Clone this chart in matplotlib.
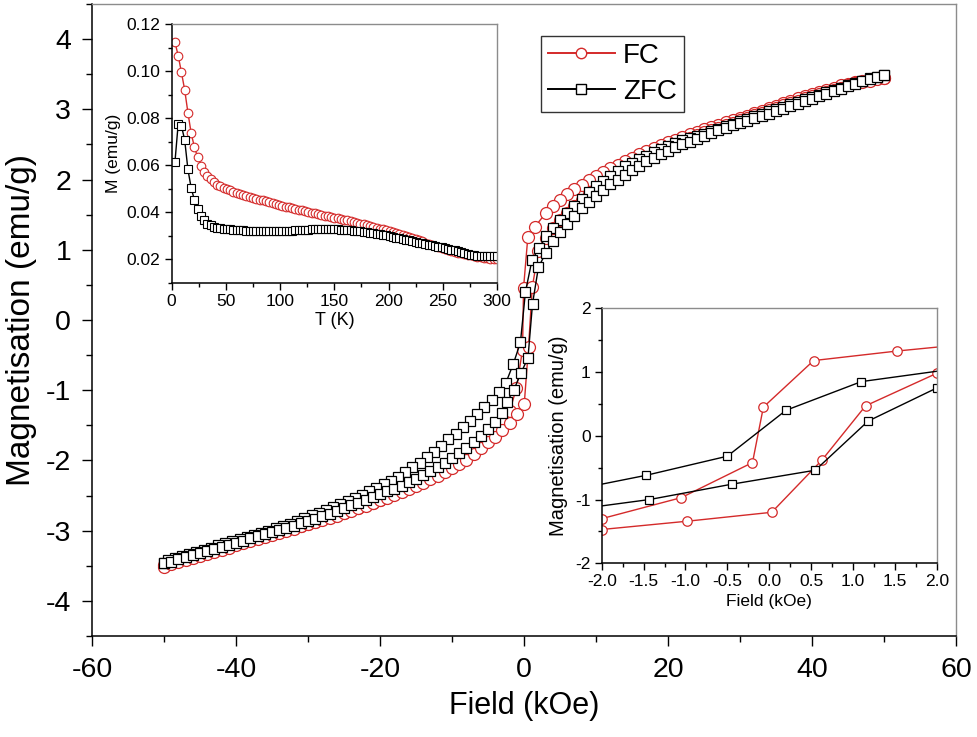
import numpy as np
import matplotlib
matplotlib.use('Agg')
import matplotlib.pyplot as plt
from matplotlib.lines import Line2D
from matplotlib.ticker import MultipleLocator, FormatStrFormatter

plt.rcParams['font.family'] = ['Liberation Sans', 'DejaVu Sans']
plt.rcParams['axes.unicode_minus'] = False

RED = '#d42a2a'

# ---------------- M-H loops (main plot + low-field inset) ----------------
# FC, descending branch (+50 -> -50 kOe)
fc_down_H = np.concatenate([np.arange(50, 2, -1),
                            [1.53, 0.53, -0.07, -0.2, -1.05, -2.0],
                            np.arange(-3, -51, -1)])
fc_down_M = [3.45, 3.44, 3.43, 3.41, 3.39, 3.36, 3.34, 3.31, 3.28, 3.25, 3.22, 3.19,
             3.16, 3.12, 3.09, 3.05, 3.02, 2.98, 2.95, 2.91, 2.88, 2.85, 2.82, 2.78,
             2.75, 2.72, 2.68, 2.65, 2.61, 2.57, 2.53, 2.49, 2.45, 2.40, 2.36, 2.31,
             2.26, 2.21, 2.16, 2.11, 2.05, 1.99, 1.92, 1.86, 1.79, 1.71, 1.62, 1.52,
             1.33, 1.18, 0.45, -0.42, -0.97, -1.30,
             -1.44, -1.55, -1.64, -1.73, -1.81, -1.89, -1.96, -2.03, -2.09, -2.15,
             -2.21, -2.27, -2.32, -2.37, -2.42, -2.47, -2.51, -2.56, -2.60, -2.64,
             -2.68, -2.71, -2.75, -2.78, -2.81, -2.84, -2.87, -2.90, -2.93, -2.96,
             -2.99, -3.02, -3.05, -3.08, -3.10, -3.13, -3.16, -3.19, -3.22, -3.25,
             -3.28, -3.31, -3.34, -3.37, -3.40, -3.43, -3.46, -3.49]

# FC, ascending branch (-50 -> +50 kOe)
fc_up_H = np.concatenate([np.arange(-50, -2, 1),
                          [-2.0, -0.98, 0.03, 0.63, 1.15, 2.0],
                          np.arange(3, 51, 1)])
fc_up_M = [-3.51, -3.48, -3.45, -3.42, -3.39, -3.36, -3.33, -3.30, -3.27, -3.24,
           -3.21, -3.18, -3.15, -3.12, -3.09, -3.06, -3.03, -3.00, -2.97, -2.94,
           -2.91, -2.88, -2.85, -2.82, -2.79, -2.75, -2.72, -2.68, -2.65, -2.61,
           -2.57, -2.53, -2.49, -2.45, -2.41, -2.37, -2.32, -2.27, -2.22, -2.17,
           -2.11, -2.05, -1.99, -1.91, -1.82, -1.74, -1.66, -1.57,
           -1.47, -1.34, -1.20, -0.38, 0.47, 0.98,
           1.17, 1.31, 1.43, 1.53, 1.62, 1.71, 1.79, 1.87, 1.94, 2.01, 2.08, 2.14,
           2.20, 2.26, 2.32, 2.37, 2.42, 2.47, 2.51, 2.55, 2.59, 2.63, 2.67, 2.71,
           2.74, 2.78, 2.81, 2.85, 2.88, 2.92, 2.95, 2.99, 3.02, 3.06, 3.09, 3.12,
           3.16, 3.19, 3.22, 3.25, 3.28, 3.31, 3.34, 3.37, 3.39, 3.41, 3.43, 3.45]

# ZFC, descending branch
zfc_down_H = np.concatenate([np.arange(50, 3, -1),
                             [3.1, 2.1, 1.1, 0.2, -0.5, -1.47],
                             np.arange(-2.5, -50, -1), [-50]])
zfc_down_M = [3.49, 3.46, 3.44, 3.41, 3.37, 3.34, 3.31, 3.28, 3.24, 3.21, 3.18, 3.14,
              3.11, 3.07, 3.04, 3.00, 2.97, 2.93, 2.90, 2.86, 2.83, 2.79, 2.76, 2.72,
              2.69, 2.65, 2.62, 2.59, 2.56, 2.52, 2.48, 2.44, 2.39, 2.34, 2.29, 2.24,
              2.19, 2.12, 2.05, 1.98, 1.91, 1.82, 1.72, 1.62, 1.52, 1.43, 1.31,
              1.19, 1.03, 0.85, 0.40, -0.32, -0.62,
              -0.89, -1.02, -1.14, -1.24, -1.34, -1.44, -1.53, -1.62, -1.70, -1.79,
              -1.88, -1.95, -2.03, -2.10, -2.16, -2.23, -2.29, -2.34, -2.39, -2.44,
              -2.49, -2.54, -2.58, -2.62, -2.66, -2.70, -2.75, -2.78, -2.82, -2.86,
              -2.90, -2.93, -2.96, -3.00, -3.03, -3.06, -3.09, -3.12, -3.15, -3.18,
              -3.21, -3.24, -3.27, -3.30, -3.33, -3.36, -3.39, -3.42,
              -3.46]

# ZFC, ascending branch
zfc_up_H = np.concatenate([np.arange(-50, -2, 1),
                           [-2.4, -1.43, -0.45, 0.55, 1.18, 2.0],
                           np.arange(3, 51, 1)])
zfc_up_M = [-3.46, -3.44, -3.41, -3.38, -3.35, -3.32, -3.29, -3.26, -3.23, -3.20,
            -3.17, -3.14, -3.11, -3.08, -3.05, -3.02, -2.99, -2.96, -2.93, -2.89,
            -2.86, -2.83, -2.79, -2.76, -2.72, -2.68, -2.64, -2.60, -2.56, -2.52,
            -2.48, -2.44, -2.40, -2.36, -2.31, -2.26, -2.21, -2.15, -2.09, -2.03,
            -1.97, -1.90, -1.82, -1.74, -1.65, -1.55, -1.45, -1.32,
            -1.17, -1.00, -0.76, -0.54, 0.23, 0.75,
            0.95, 1.12, 1.25, 1.37, 1.48, 1.59, 1.68, 1.77, 1.85, 1.93, 2.00, 2.07,
            2.14, 2.20, 2.26, 2.31, 2.36, 2.41, 2.46, 2.50, 2.54, 2.58, 2.62, 2.66,
            2.70, 2.73, 2.77, 2.80, 2.84, 2.87, 2.91, 2.94, 2.98, 3.01, 3.05, 3.08,
            3.12, 3.15, 3.19, 3.22, 3.26, 3.29, 3.33, 3.36, 3.40, 3.43, 3.46, 3.49]

# ---------------- M-T curves (upper-left inset) ----------------
T_K = np.arange(3, 301, 3)
M_T_fc = [0.1125, 0.1067, 0.0996, 0.0921, 0.0824, 0.0736, 0.0677, 0.0634, 0.0596, 0.0573,
          0.0555, 0.0540, 0.0528, 0.0518, 0.0511, 0.0505, 0.0500, 0.0494, 0.0488, 0.0483,
          0.0478, 0.0474, 0.0470, 0.0466, 0.0462, 0.0458, 0.0454, 0.0450, 0.0446, 0.0442,
          0.0438, 0.0434, 0.0430, 0.0427, 0.0424, 0.0421, 0.0418, 0.0415, 0.0411, 0.0408,
          0.0404, 0.0401, 0.0398, 0.0395, 0.0392, 0.0389, 0.0386, 0.0383, 0.0380, 0.0377,
          0.0374, 0.0371, 0.0368, 0.0365, 0.0362, 0.0358, 0.0355, 0.0352, 0.0348, 0.0345,
          0.0341, 0.0338, 0.0334, 0.0330, 0.0327, 0.0323, 0.0319, 0.0315, 0.0311, 0.0306,
          0.0302, 0.0298, 0.0294, 0.0289, 0.0285, 0.0280, 0.0276, 0.0271, 0.0266, 0.0262,
          0.0257, 0.0253, 0.0248, 0.0244, 0.0240, 0.0236, 0.0232, 0.0228, 0.0225, 0.0222,
          0.0219, 0.0216, 0.0213, 0.0210, 0.0208, 0.0206, 0.0204, 0.0202, 0.0201, 0.0200]
M_T_zfc = [0.0612, 0.0775, 0.0768, 0.0708, 0.0582, 0.0503, 0.0452, 0.0412, 0.0385, 0.0365,
           0.0352, 0.0344, 0.0339, 0.0335, 0.0332, 0.0330, 0.0328, 0.0327, 0.0326, 0.0325,
           0.0324, 0.0323, 0.0322, 0.0321, 0.0320, 0.0320, 0.0319, 0.0319, 0.0319, 0.0319,
           0.0319, 0.0320, 0.0320, 0.0321, 0.0321, 0.0322, 0.0322, 0.0323, 0.0324, 0.0325,
           0.0325, 0.0326, 0.0327, 0.0327, 0.0328, 0.0328, 0.0328, 0.0328, 0.0328, 0.0327,
           0.0327, 0.0326, 0.0325, 0.0324, 0.0323, 0.0322, 0.0321, 0.0319, 0.0317, 0.0315,
           0.0313, 0.0311, 0.0309, 0.0306, 0.0304, 0.0301, 0.0298, 0.0295, 0.0292, 0.0289,
           0.0286, 0.0283, 0.0280, 0.0277, 0.0274, 0.0271, 0.0268, 0.0265, 0.0262, 0.0259,
           0.0256, 0.0253, 0.0250, 0.0247, 0.0244, 0.0241, 0.0238, 0.0235, 0.0232, 0.0228,
           0.0223, 0.0219, 0.0216, 0.0215, 0.0214, 0.0214, 0.0214, 0.0214, 0.0214, 0.0214]

assert len(fc_down_H) == len(fc_down_M)
assert len(fc_up_H) == len(fc_up_M)
assert len(zfc_down_H) == len(zfc_down_M)
assert len(zfc_up_H) == len(zfc_up_M)
assert len(T_K) == len(M_T_fc) == len(M_T_zfc)

H_fc = np.concatenate([fc_down_H, fc_up_H])
M_fc = np.concatenate([fc_down_M, fc_up_M])
H_zfc = np.concatenate([zfc_down_H, zfc_up_H])
M_zfc = np.concatenate([zfc_down_M, zfc_up_M])

x_ticks_main = [-60, -40, -20, 0, 20, 40, 60]
y_ticks_main = [-4, -3, -2, -1, 0, 1, 2, 3, 4]


def style_axes(a, lab_size, major_len, minor_len, pad):
    for s in ('left', 'bottom'):
        a.spines[s].set_color('black')
        a.spines[s].set_linewidth(1.1)
    for s in ('top', 'right'):
        a.spines[s].set_color('#8c8c8c')
        a.spines[s].set_linewidth(1.0)
    a.tick_params(which='both', direction='out', top=False, right=False,
                  labelsize=lab_size, width=1.0, colors='black', pad=pad)
    a.tick_params(which='major', length=major_len)
    a.tick_params(which='minor', length=minor_len)


fig = plt.figure(figsize=(9.77, 7.37), dpi=100)

# ---------------- main axes ----------------
ax = fig.add_axes([0.0942, 0.1370, 0.8843, 0.8576])
ax.plot(H_fc, M_fc, color=RED, lw=1.0, marker='o', ms=8.6,
        mfc='white', mec=RED, mew=0.9)
ax.plot(H_zfc, M_zfc, color='black', lw=1.0, marker='s', ms=7.8,
        mfc='white', mec='black', mew=0.9)
ax.set_xlim(-60, 60)
ax.set_ylim(-4.5, 4.5)
ax.set_xticks(x_ticks_main)
ax.set_yticks(y_ticks_main)
ax.xaxis.set_minor_locator(MultipleLocator(10))
ax.yaxis.set_minor_locator(MultipleLocator(0.5))
style_axes(ax, 20.5, 7, 4, 8)
ax.set_xlabel('Field (kOe)', fontsize=22, labelpad=6)
ax.set_ylabel('Magnetisation (emu/g)', fontsize=24, labelpad=6)

handles = [Line2D([], [], color=RED, lw=1.4, marker='o', ms=7.5, mfc='white', mec=RED, mew=1.0),
           Line2D([], [], color='black', lw=1.4, marker='s', ms=6.5, mfc='white', mec='black', mew=1.0)]
leg = fig.legend(handles, ['FC', 'ZFC'], loc='upper left',
                 bbox_to_anchor=(541 / 977, 1 - 36 / 737), fontsize=20,
                 frameon=True, fancybox=False, edgecolor='black',
                 handlelength=2.4, handletextpad=0.3, borderpad=0.25,
                 labelspacing=0.35, borderaxespad=0)
leg.get_frame().set_linewidth(1.0)

# ---------------- inset: M vs T ----------------
ax1 = fig.add_axes([0.1757, 0.6164, 0.3330, 0.3506])
ax1.plot(T_K, M_T_fc, color=RED, lw=1.0, marker='o', ms=6.2,
         mfc='white', mec=RED, mew=0.8)
ax1.plot(T_K, M_T_zfc, color='black', lw=1.0, marker='s', ms=5.6,
         mfc='white', mec='black', mew=0.8)
ax1.set_xlim(0, 300)
ax1.set_ylim(0.01, 0.12)
ax1.set_xticks([0, 50, 100, 150, 200, 250, 300])
ax1.set_yticks([0.02, 0.04, 0.06, 0.08, 0.10, 0.12])
ax1.xaxis.set_minor_locator(MultipleLocator(25))
ax1.yaxis.set_minor_locator(MultipleLocator(0.01))
ax1.yaxis.set_major_formatter(FormatStrFormatter('%.2f'))
style_axes(ax1, 12.5, 5, 3, 3)
ax1.set_xlabel('T (K)', fontsize=13, labelpad=2)
ax1.set_ylabel('M (emu/g)', fontsize=12.5, labelpad=4)

# ---------------- inset: low-field loop ----------------
ax2 = fig.add_axes([0.6159, 0.2357, 0.3429, 0.3460])
ax2.plot(H_fc, M_fc, color=RED, lw=1.0, marker='o', ms=6.8,
         mfc='white', mec=RED, mew=0.9)
ax2.plot(H_zfc, M_zfc, color='black', lw=1.0, marker='s', ms=5.6,
         mfc='white', mec='black', mew=0.9)
ax2.set_xlim(-2, 2)
ax2.set_ylim(-2, 2)
ax2.set_xticks([-2.0, -1.5, -1.0, -0.5, 0.0, 0.5, 1.0, 1.5, 2.0])
ax2.set_yticks([-2, -1, 0, 1, 2])
ax2.xaxis.set_minor_locator(MultipleLocator(0.25))
ax2.yaxis.set_minor_locator(MultipleLocator(0.5))
ax2.xaxis.set_major_formatter(FormatStrFormatter('%.1f'))
style_axes(ax2, 12.5, 5, 3, 3)
ax2.set_xlabel('Field (kOe)', fontsize=12.5, labelpad=3)
ax2.set_ylabel('Magnetisation (emu/g)', fontsize=14.5, labelpad=5)

fig.savefig('out.png', dpi=100)
